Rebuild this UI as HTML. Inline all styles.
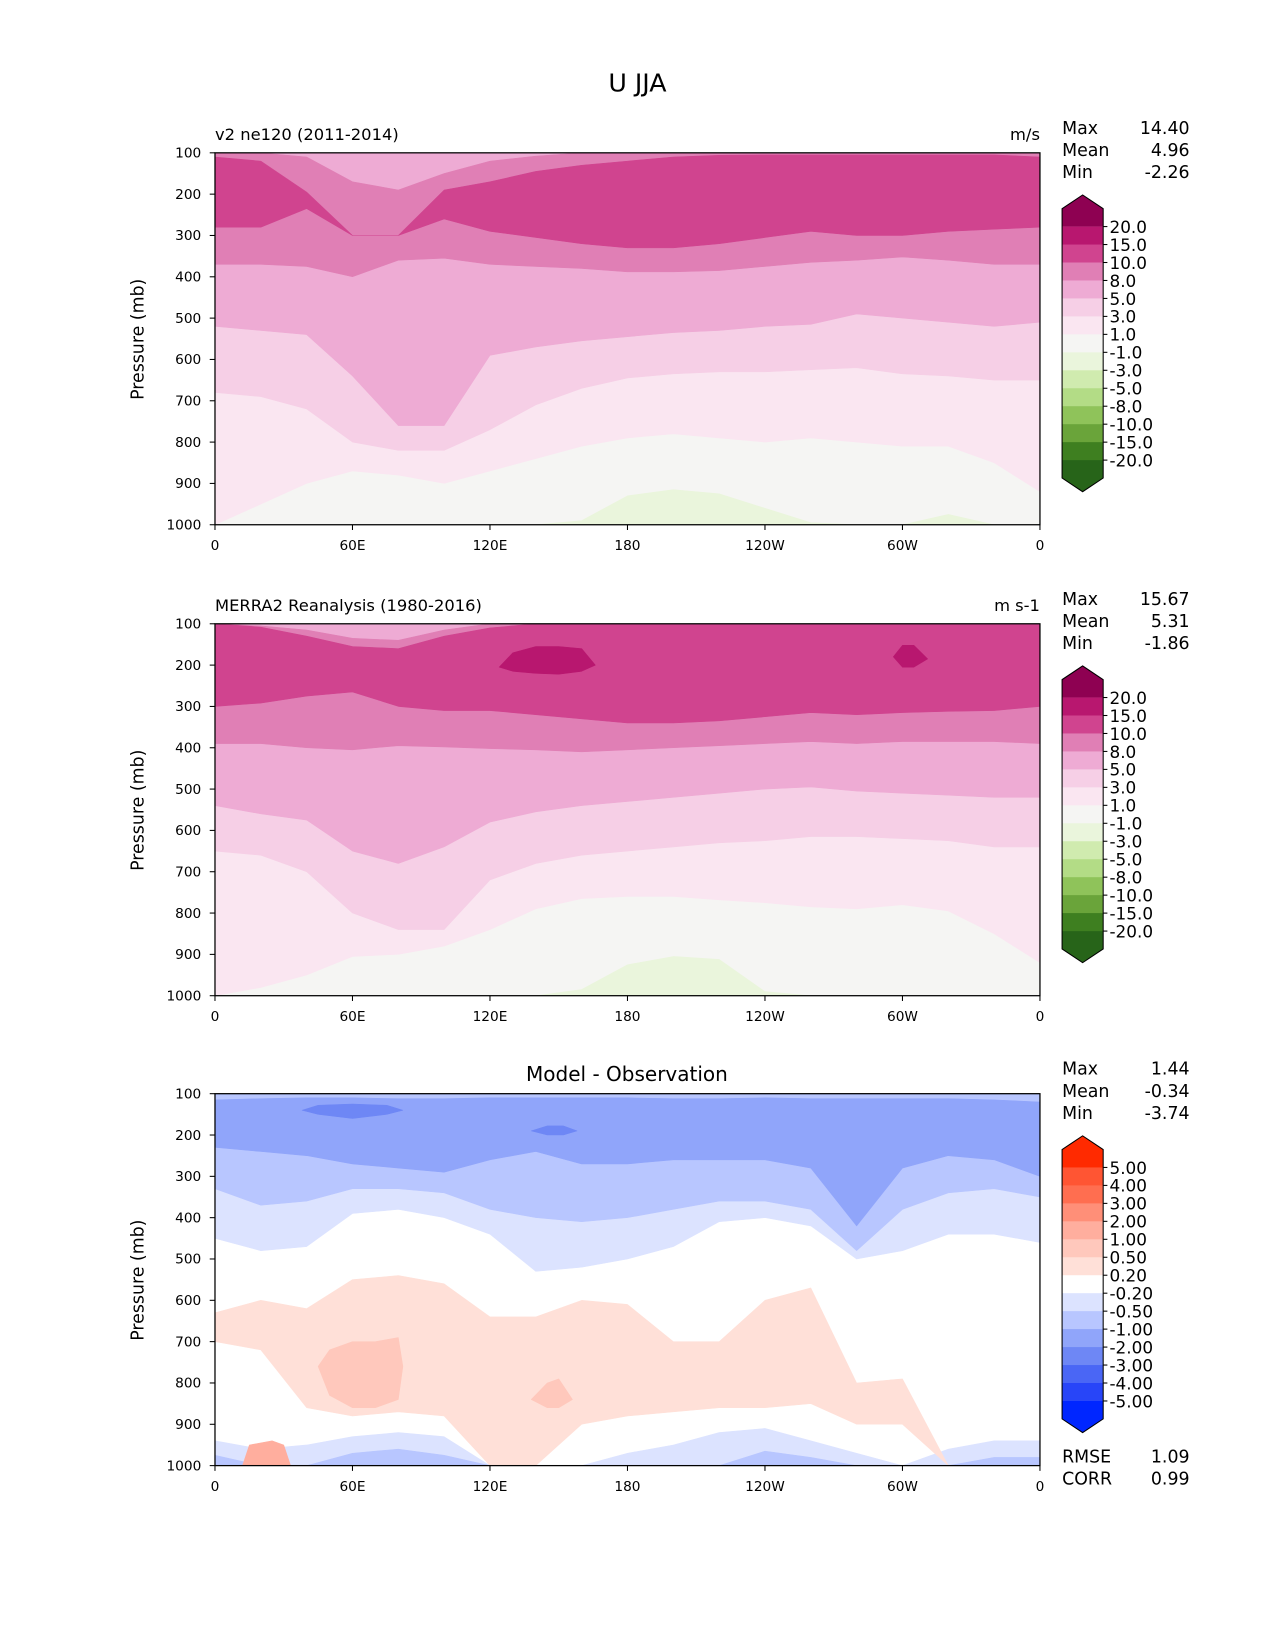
<!DOCTYPE html>
<html><head><meta charset="utf-8">
<style>
html,body{margin:0;padding:0;background:#fff;width:1275px;height:1650px;overflow:hidden;}
svg{display:block;}
svg text{font-family:"DejaVu Sans","Liberation Sans",sans-serif;fill:#000;}
</style></head>
<body>
<svg width="1275" height="1650" viewBox="0 0 1275 1650" xmlns="http://www.w3.org/2000/svg">
<rect width="1275" height="1650" fill="#fff"/>
<g id="fig" transform="translate(-1,-1) scale(1.0536)">
<text x="606" y="88" font-size="24" text-anchor="middle">U JJA</text>
</g>
</svg>
<script>
const LON=[0,20,40,60,80,100,120,140,160,180,200,220,240,260,280,300,320,340,360];
const YTICKS=[100,200,300,400,500,600,700,800,900,1000];
const XTICK_LON=[0,60,120,180,240,300,360];
const XTICK_LABELS=["0","60E","120E","180","120W","60W","0"];
// Panel 1 (model)
const p1_gt1_bot=[1000,950,900,870,880,900,870,840,810,790,780,790,800,790,800,810,810,850,920];
const p1_gt3_bot=[680,690,720,800,820,820,770,710,670,645,635,630,630,625,620,635,640,650,650];
const p1_gt5_bot=[520,530,540,640,760,760,590,570,555,545,535,530,520,515,490,500,510,520,510];
const p1_gt8_top=[100,100,110,170,190,150,120,108,100,100,100,100,100,100,100,100,100,100,100];
const p1_gt8_bot=[370,370,375,400,360,355,370,375,380,388,388,385,375,365,360,352,360,370,370];
const p1_gt10_top=[110,120,195,300,300,190,170,145,130,120,110,106,105,105,105,105,105,105,110];
const p1_gt10_bot=[280,280,235,300,300,260,290,305,320,330,330,320,305,290,300,300,290,285,280];
const p1_lt1_top=[1000,1000,1000,1000,1000,1000,1000,1000,990,930,915,925,960,995,1000,1000,975,1000,1000];
// Panel 2 (MERRA2)
const p2_gt1_bot=[1000,980,950,905,900,880,840,790,765,760,760,768,775,785,790,780,795,850,920];
const p2_gt3_bot=[650,660,700,800,840,840,720,680,660,650,640,630,625,615,615,620,625,640,640];
const p2_gt5_bot=[540,560,575,650,680,640,580,555,540,530,520,510,500,495,505,510,515,520,520];
const p2_gt8_top=[100,105,115,135,140,115,100,100,100,100,100,100,100,100,100,100,100,100,100];
const p2_gt8_bot=[390,390,400,405,395,398,402,405,410,405,400,395,390,385,390,385,385,385,390];
const p2_gt10_top=[100,108,130,155,160,130,110,100,100,100,100,100,100,100,100,100,100,100,100];
const p2_gt10_bot=[300,292,275,265,300,310,310,320,330,340,340,335,325,315,320,315,312,310,300];
const p2_gt15a_lon=[124,130,140,150,160,166];
const p2_gt15a_top=[205,170,155,155,160,200];
const p2_gt15a_bot=[205,215,220,222,215,200];
const p2_gt15b_lon=[296,300,305,311];
const p2_gt15b_top=[180,152,152,185];
const p2_gt15b_bot=[180,205,205,185];
const p2_lt1_top=[1000,1000,1000,1000,1000,1000,1000,1000,985,925,905,912,990,1000,1000,1000,1000,1000,1000];
// Panel 3 (difference)
const p3_lt02_bot=[450,480,470,390,380,400,440,530,520,500,470,410,400,420,500,480,440,440,460];
const p3_lt05_bot=[330,370,360,330,330,340,380,400,410,400,380,360,360,380,480,380,340,330,350];
const p3_lt1_top=[115,112,110,110,112,112,110,110,110,110,112,112,110,112,112,112,112,115,120];
const p3_lt1_bot=[230,240,250,270,280,290,260,240,270,270,260,260,260,280,420,280,250,260,300];
const p3_lt2a_lon=[38,45,60,75,82];
const p3_lt2a_top=[140,128,125,128,140];
const p3_lt2a_bot=[140,150,160,150,140];
const p3_lt2b_lon=[138,145,152,158];
const p3_lt2b_top=[190,178,178,190];
const p3_lt2b_bot=[190,200,200,190];
const p3_sfc_lt02_top=[940,960,950,930,920,930,1000,1000,1000,970,950,920,910,940,970,1000,960,940,940];
const p3_sfc_lt05_top=[975,1000,1000,970,960,975,1000,1000,1000,1000,1000,1000,965,980,1000,1000,1000,980,980];
const p3_gt02_top=[630,600,620,550,540,560,640,640,600,610,700,700,600,570,800,790,1000,1000,1000];
const p3_gt02_bot=[700,720,860,880,870,880,1000,1000,900,880,870,860,860,850,900,900,1000,1000,1000];
const p3_gt05a_lon=[45,50,60,70,80,82];
const p3_gt05a_top=[760,720,700,700,690,760];
const p3_gt05a_bot=[760,830,860,860,840,760];
const p3_gt05b_lon=[138,145,150,156];
const p3_gt05b_top=[840,800,790,840];
const p3_gt05b_bot=[840,860,860,840];
const p3_sfcred_lon=[12,15,25,30,33];
const p3_sfcred_top=[1000,950,940,950,1000];
// Colorbars
const CB1_LABELS=["20.0","15.0","10.0","8.0","5.0","3.0","1.0","-1.0","-3.0","-5.0","-8.0","-10.0","-15.0","-20.0"];
const CB1_COLORS=["#b8176f","#d0448f","#e07fb5","#eeabd4","#f6cfe6","#fae6f1","#f5f5f3","#eaf5dc","#d0ebaf","#b3dc86","#8fc35a","#6aa43a","#3e7f20"];
const CB3_LABELS=["5.00","4.00","3.00","2.00","1.00","0.50","0.20","-0.20","-0.50","-1.00","-2.00","-3.00","-4.00","-5.00"];
const CB3_COLORS=["#ff5533","#ff6e50","#ff8f78","#ffae9e","#ffc8bc","#ffe0d8","#ffffff","#dce3ff","#b8c6ff","#90a5fa","#6e87f5","#4a66f5","#2845f8"];
const STATS1=["14.40","4.96","-2.26"], STATS2=["15.67","5.31","-1.86"], STATS3=["1.44","-0.34","-3.74"];
const NS="http://www.w3.org/2000/svg";
const svg=document.getElementById('fig');
function mk(tag,attrs,parent){const e=document.createElementNS(NS,tag);for(const k in attrs)e.setAttribute(k,attrs[k]);(parent||svg).appendChild(e);return e;}
const X0=205,X1=988;
function xs(l){return X0+(l/360)*(X1-X0);}
function panel(idx,top,title,units,stats,bands,base,cbColors,cbLabels,cbExt){
  const bot=top+353;
  const ys=p=>top+(p-100)/900*(bot-top);
  const g=mk('g',{});
  
  
  const cp=mk('clipPath',{id:'c'+idx},g);mk('rect',{x:X0,y:top,width:X1-X0,height:bot-top},cp);
  const pg=mk('g',{'clip-path':'url(#c'+idx+')'},g);
  const bg=mk('rect',{x:X0,y:top,width:X1-X0,height:bot-top,fill:base},pg);
  
  
  bands.forEach((b,i)=>{
    const lon=b.lon||LON;const tp=b.top||lon.map(()=>100);const bt=b.bot||lon.map(()=>1000);
    let pts=lon.map((l,j)=>xs(l)+','+ys(tp[j]));
    for(let j=lon.length-1;j>=0;j--)pts.push(xs(lon[j])+','+ys(bt[j]));
    const p=mk('polygon',{points:pts.join(' '),fill:b.c,stroke:b.c,'stroke-width':0.5,'stroke-linejoin':'round'},pg);
    
    
  });
  const fr=mk('rect',{x:X0,y:top,width:X1-X0,height:bot-top,fill:'none',stroke:'#000','stroke-width':1.2},g);
  
  
  YTICKS.forEach(p=>{mk('line',{x1:X0-5,x2:X0,y1:ys(p),y2:ys(p),stroke:'#000'},g);
    const t=mk('text',{x:X0-13,y:ys(p)+4.5,'font-size':13,'text-anchor':'end'},g);t.textContent=p;
    
    });
  XTICK_LON.forEach((l,j)=>{mk('line',{x1:xs(l),x2:xs(l),y1:bot,y2:bot+5,stroke:'#000'},g);
    const t=mk('text',{x:xs(l),y:bot+24,'font-size':13,'text-anchor':'middle'},g);t.textContent=XTICK_LABELS[j];
    
    });
  const yl=mk('text',{x:0,y:0,'font-size':16.5,'text-anchor':'middle',transform:'translate(137,'+(top+177)+') rotate(-90)'},g);yl.textContent='Pressure (mb)';
  
  
  if(idx<3){const t=mk('text',{x:X0,y:top-12,'font-size':15.5},g);t.textContent=title;
    
    
    const u=mk('text',{x:X1,y:top-12,'font-size':15.5,'text-anchor':'end'},g);u.textContent=units;
    
    }
  else{const t=mk('text',{x:596,y:top-12,'font-size':19,'text-anchor':'middle'},g);t.textContent=title;
    
    }
  ['Max','Mean','Min'].forEach((n,j)=>{const a=mk('text',{x:1009,y:top-18+j*21,'font-size':16.5},g);a.textContent=n;
    
    
    const v=mk('text',{x:1130,y:top-18+j*21,'font-size':16.5,'text-anchor':'end'},g);v.textContent=stats[j];
    
    });
  const cbTop=top+40,step=17.05,cx0=1009,cx1=1048;
  const cg=mk('g',{},g);
  
  
  mk('polygon',{points:`${cx0},${cbTop+13} ${(cx0+cx1)/2},${cbTop} ${cx1},${cbTop+13} ${cx1},${cbTop+30} ${cx0},${cbTop+30}`,fill:cbExt[0]},cg);
  const first=cbTop+30;
  cbColors.forEach((c,j)=>{mk('rect',{x:cx0,y:first+j*step,width:cx1-cx0,height:step+0.6,fill:c},cg);});
  const last=first+cbColors.length*step;
  mk('polygon',{points:`${cx0},${last} ${cx1},${last} ${cx1},${last+17} ${(cx0+cx1)/2},${last+30} ${cx0},${last+17}`,fill:cbExt[1]},cg);
  mk('polygon',{points:`${cx0},${cbTop+13} ${(cx0+cx1)/2},${cbTop} ${cx1},${cbTop+13} ${cx1},${last+17} ${(cx0+cx1)/2},${last+30} ${cx0},${last+17}`,fill:'none',stroke:'#000','stroke-width':1},cg);
  cbLabels.forEach((L,j)=>{const y=first+j*step;mk('line',{x1:cx1,x2:cx1+4,y1:y,y2:y,stroke:'#000'},cg);
    const t=mk('text',{x:cx1+6,y:y+6,'font-size':16},cg);t.textContent=L;
    
    });
  return bot;
}
panel(1,146,'v2 ne120 (2011-2014)','m/s',STATS1,[
 {c:'#fae6f1',bot:p1_gt1_bot},{c:'#f6cfe6',bot:p1_gt3_bot},{c:'#eeabd4',bot:p1_gt5_bot},
 {c:'#e07fb5',top:p1_gt8_top,bot:p1_gt8_bot},{c:'#d0448f',top:p1_gt10_top,bot:p1_gt10_bot},
 {c:'#eaf5dc',top:p1_lt1_top}],'#f5f5f3',CB1_COLORS,CB1_LABELS,['#8e0152','#276419']);
panel(2,593,'MERRA2 Reanalysis (1980-2016)','m s-1',STATS2,[
 {c:'#fae6f1',bot:p2_gt1_bot},{c:'#f6cfe6',bot:p2_gt3_bot},{c:'#eeabd4',bot:p2_gt5_bot},
 {c:'#e07fb5',top:p2_gt8_top,bot:p2_gt8_bot},{c:'#d0448f',top:p2_gt10_top,bot:p2_gt10_bot},
 {c:'#b8176f',lon:p2_gt15a_lon,top:p2_gt15a_top,bot:p2_gt15a_bot},{c:'#b8176f',lon:p2_gt15b_lon,top:p2_gt15b_top,bot:p2_gt15b_bot},
 {c:'#eaf5dc',top:p2_lt1_top}],'#f5f5f3',CB1_COLORS,CB1_LABELS,['#8e0152','#276419']);
panel(3,1039,'Model - Observation','',STATS3,[
 {c:'#dce3ff',bot:p3_lt02_bot},{c:'#b8c6ff',bot:p3_lt05_bot},{c:'#90a5fa',top:p3_lt1_top,bot:p3_lt1_bot},
 {c:'#6e87f5',lon:p3_lt2a_lon,top:p3_lt2a_top,bot:p3_lt2a_bot},{c:'#6e87f5',lon:p3_lt2b_lon,top:p3_lt2b_top,bot:p3_lt2b_bot},
 {c:'#dce3ff',top:p3_sfc_lt02_top},{c:'#b8c6ff',top:p3_sfc_lt05_top},
 {c:'#ffe0d8',top:p3_gt02_top,bot:p3_gt02_bot},
 {c:'#ffc8bc',lon:p3_gt05a_lon,top:p3_gt05a_top,bot:p3_gt05a_bot},{c:'#ffc8bc',lon:p3_gt05b_lon,top:p3_gt05b_top,bot:p3_gt05b_bot},
 {c:'#ffae9e',lon:p3_sfcred_lon,top:p3_sfcred_top}],'#ffffff',CB3_COLORS,CB3_LABELS,['#ff2a00','#0026ff']);
[['RMSE','1.09',1389],['CORR','0.99',1410]].forEach(r=>{
  const a=mk('text',{x:1009,y:r[2],'font-size':16.5});a.textContent=r[0];
  
  
  const v=mk('text',{x:1130,y:r[2],'font-size':16.5,'text-anchor':'end'});v.textContent=r[1];
  
  
});
</script>
</body></html>
